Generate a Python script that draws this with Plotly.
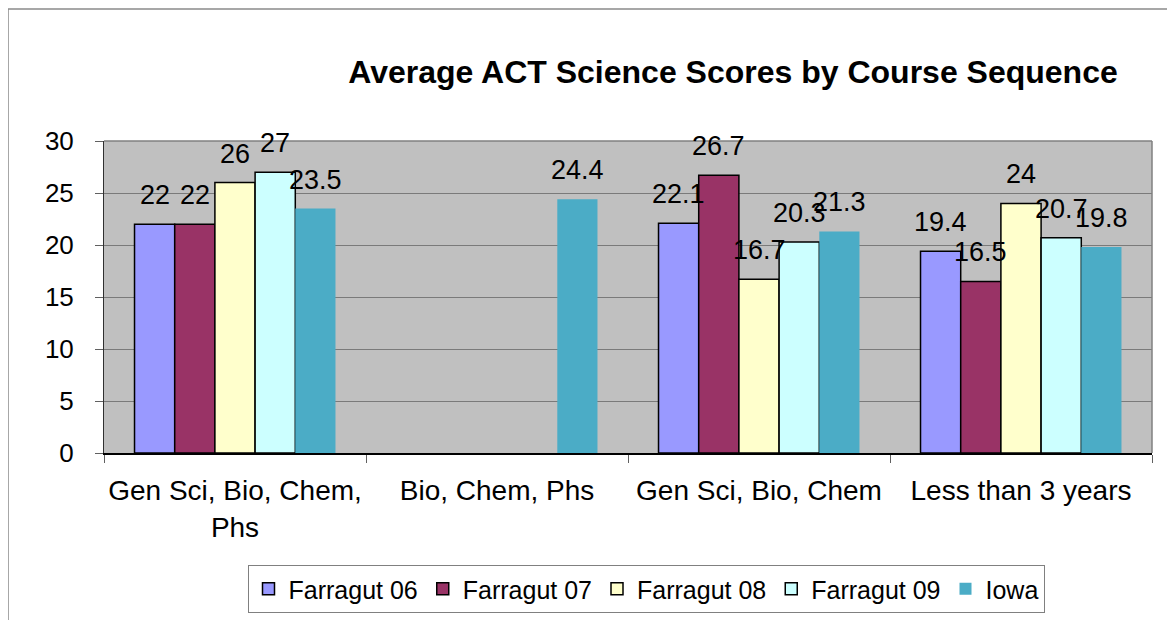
import plotly.graph_objects as go

categories = ["Gen Sci, Bio, Chem,<br>Phs", "Bio, Chem, Phs", "Gen Sci, Bio, Chem", "Less than 3 years"]
series_names = ["Farragut 06", "Farragut 07", "Farragut 08", "Farragut 09", "Iowa"]
farragut06 = [22, None, 22.1, 19.4]
farragut07 = [22, None, 26.7, 16.5]
farragut08 = [26, None, 16.7, 24]
farragut09 = [27, None, 20.3, 20.7]
iowa = [23.5, 24.4, 21.3, 19.8]
y_ticks = [0, 5, 10, 15, 20, 25, 30]

series_values = [farragut06, farragut07, farragut08, farragut09, iowa]
colors = ["#9999FF", "#993366", "#FFFFCC", "#CCFFFF", "#4BACC6"]
outline = [1.5, 1.5, 1.5, 1.5, 0]

FONT = "Arial, Liberation Sans, sans-serif"
W, H = 1175, 620
OFF = 8  # page body margin offset
# plot area in screen pixels
L, R, T, B = 104, 1152, 141, 453
BARGAP = 0.233

fig = go.Figure()
for name, vals, c, lw in zip(series_names, series_values, colors, outline):
    fig.add_trace(go.Bar(
        x=categories, y=vals, name=name,
        marker=dict(color=c, line=dict(color="black", width=lw)),
        cliponaxis=False,
    ))

# data labels above each bar, offset by the bar slot width within its group
cat_px = (R - L) / len(categories)
bar_px = cat_px * (1 - BARGAP) / len(series_names)
annotations = []
for i, vals in enumerate(series_values):
    shift = (i - (len(series_names) - 1) / 2) * bar_px
    for cat, v in zip(categories, vals):
        if v is None:
            continue
        annotations.append(dict(
            x=cat, y=v, xref="x", yref="y", text=f"{v:g}", showarrow=False,
            xanchor="center", yanchor="bottom", xshift=shift, yshift=12,
            font=dict(family=FONT, size=27, color="black"),
        ))


def px_x(p):
    return (p - L) / (R - L)


def px_y(p):
    return (B - p) / (B - T)


fig.update_layout(
    template="none",
    width=W, height=H,
    margin=dict(l=L - OFF, r=W - (R - OFF), t=T - OFF, b=H - (B - OFF), autoexpand=False),
    paper_bgcolor="white",
    plot_bgcolor="#C0C0C0",
    barmode="group",
    bargap=BARGAP,
    bargroupgap=0,
    font=dict(family=FONT, color="black"),
    title=dict(
        text="<b>Average ACT Science Scores by Course Sequence</b>",
        x=(733 - OFF) / W, xanchor="center", y=1 - (71.5 - OFF) / H, yanchor="middle",
        font=dict(family=FONT, size=32, color="black"),
    ),
    xaxis=dict(
        showline=True, linecolor="black", linewidth=1.5,
        ticks="outside", tickson="boundaries", ticklen=8, tickcolor="#606060", tickwidth=1,
        ticklabelstandoff=12, tickangle=0,
        tickfont=dict(family=FONT, size=28, color="black"),
        showgrid=False, automargin=False,
    ),
    yaxis=dict(
        range=[0, 30], tickvals=y_ticks,
        showline=True, linecolor="#303030", linewidth=1,
        ticks="outside", ticklen=8, tickcolor="#606060", tickwidth=1,
        ticklabelstandoff=16,
        tickfont=dict(family=FONT, size=26, color="black"),
        showgrid=True, gridcolor="#7a7a7a", gridwidth=1,
        zeroline=False, automargin=False,
    ),
    showlegend=True,
    legend=dict(
        orientation="h",
        x=px_x(646), xanchor="center",
        y=px_y(565), yanchor="top",
        bordercolor="#808080", borderwidth=1,
        bgcolor="white",
        font=dict(family=FONT, size=25, color="black"),
        itemwidth=30,
        tracegroupgap=0,
    ),
    annotations=annotations,
    shapes=[
        dict(type="line", xref="paper", yref="paper", x0=0, x1=1, y0=1, y1=1,
             line=dict(color="#808080", width=1.5)),
        dict(type="line", xref="paper", yref="paper", x0=1, x1=1, y0=0, y1=1,
             line=dict(color="#808080", width=1.5)),
        dict(type="line", xref="paper", yref="paper", x0=px_x(8), x1=px_x(1200),
             y0=px_y(9), y1=px_y(9), line=dict(color="#8a8a8a", width=1.5)),
        dict(type="line", xref="paper", yref="paper", x0=px_x(8), x1=px_x(8),
             y0=px_y(9), y1=px_y(640), line=dict(color="#8a8a8a", width=1.5)),
    ],
)

fig.write_html("out.html")
